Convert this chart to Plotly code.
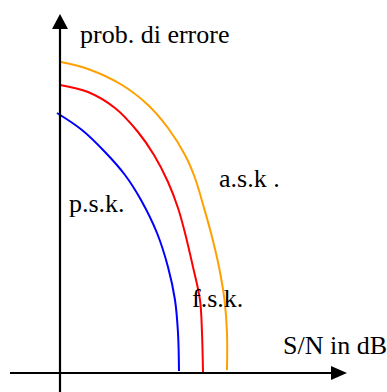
import plotly.graph_objects as go

# Curves (x = S/N units from origin, y = error-probability units above the S/N axis)
psk_x = [-3, 22, 45, 65, 81, 97, 108, 115, 118, 119]
psk_y = [260, 243, 221, 198, 173, 140, 106, 73, 40, 2]
fsk_x = [0, 28, 55, 78, 94, 108, 118, 125, 133, 140, 142, 143]
fsk_y = [288, 281, 265, 241, 218, 191, 165, 140, 106, 73, 40, 0]
ask_x = [1, 28, 62, 88, 108, 125, 135, 144, 151, 159, 164.5, 167, 167]
ask_y = [311, 304, 288, 268, 245, 218, 195, 165, 140, 106, 73, 40, 3]

labels = ["p.s.k.", "f.s.k.", "a.s.k ."]
axis_titles = ["prob. di errore", "S/N in dB"]

FONT = "Times New Roman"

fig = go.Figure()
for xs, ys, col in [(psk_x, psk_y, "#0000ff"), (fsk_x, fsk_y, "#ff0000"), (ask_x, ask_y, "#ffa000")]:
    fig.add_trace(go.Scatter(x=xs, y=ys, mode="lines",
                             line=dict(color=col, width=2, shape="spline", smoothing=1.0),
                             showlegend=False, hoverinfo="skip"))

# axes lines and arrowheads
fig.add_shape(type="line", x0=0, x1=0, y0=-19, y1=345, line=dict(color="black", width=2.2))
fig.add_shape(type="line", x0=-50, x1=273, y0=0, y1=0, line=dict(color="black", width=2.2))
fig.add_shape(type="path", path="M -8,344 L 8,344 L 0,359 Z", fillcolor="black", line=dict(width=0))
fig.add_shape(type="path", path="M 271,7 L 271,-7 L 287,0 Z", fillcolor="black", line=dict(width=0))

def txt(x, y, s):
    fig.add_annotation(x=x, y=y, text=s, showarrow=False, xanchor="left", yanchor="middle",
                       font=dict(family=FONT, size=26, color="black"))

txt(18, 339, axis_titles[0])
txt(221, 28, axis_titles[1])
txt(7, 170, labels[0])
txt(130, 75, labels[1])
txt(157, 195, labels[2])

fig.update_layout(width=387, height=392, margin=dict(l=0, r=0, t=0, b=0),
                  paper_bgcolor="white", plot_bgcolor="white")
fig.update_xaxes(range=[-60, 327], visible=False, fixedrange=True)
fig.update_yaxes(range=[-19, 373], visible=False, fixedrange=True)
fig.write_html("out.html", config={"displayModeBar": False},
               post_script="document.body.style.margin='0px';document.body.style.overflow='hidden';")
